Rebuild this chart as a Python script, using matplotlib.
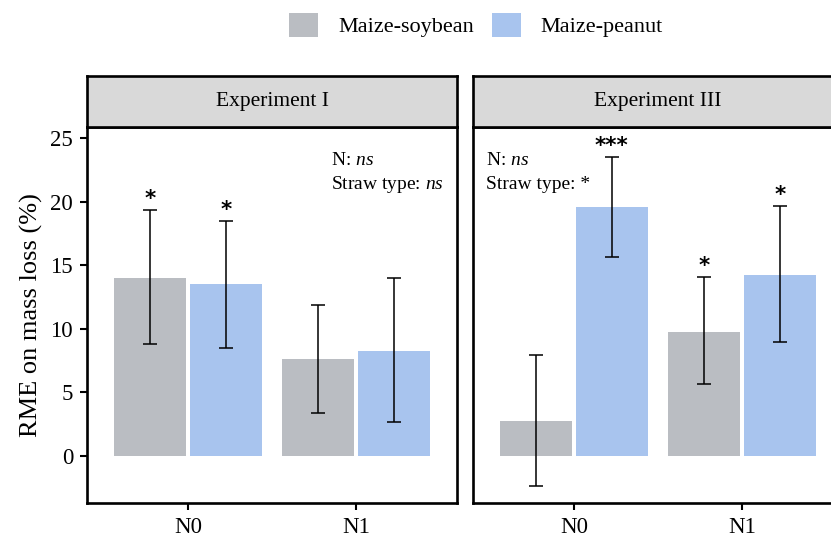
import matplotlib
matplotlib.use('Agg')
import matplotlib.pyplot as plt
from matplotlib.patches import Patch
import numpy as np

# values
experiments = ['Experiment I', 'Experiment III']
nlevels = ['N0', 'N1']
straws = ['Maize-soybean', 'Maize-peanut']
colors = ['#babdc2', '#a8c4ee']

# mean, lower, upper per experiment -> [straw][N]
means = {
    'Experiment I':   [[14.05, 7.6], [13.55, 8.28]],
    'Experiment III': [[2.75, 9.8], [19.58, 14.23]],
}
lower = {
    'Experiment I':   [[8.78, 3.35], [8.52, 2.64]],
    'Experiment III': [[-2.33, 5.63], [15.64, 8.94]],
}
upper = {
    'Experiment I':   [[19.36, 11.85], [18.53, 14.05]],
    'Experiment III': [[7.97, 14.1], [23.53, 19.65]],
}
signif = {
    'Experiment I':   [['*', ''], ['*', '']],
    'Experiment III': [['', '*'], ['***', '*']],
}
notes = {
    'Experiment I':   ['N: $\\it{ns}$', 'Straw type: $\\it{ns}$'],
    'Experiment III': ['N: $\\it{ns}$', 'Straw type: *'],
}

plt.rcParams['font.family'] = ['Liberation Serif', 'DejaVu Serif']
plt.rcParams['mathtext.fontset'] = 'custom'
plt.rcParams['mathtext.it'] = 'Liberation Serif:italic'
plt.rcParams['mathtext.rm'] = 'Liberation Serif'

W, H = 831, 537
fig = plt.figure(figsize=(W / 100, H / 100), dpi=100)

def fx(px):
    return px / W

def fy(py):
    return 1 - py / H

panel_left = [87, 473]
pw = 370
ptop, pbot = 127, 503
strip_top = 76
bw = 0.43
offs = [-0.225, 0.225]

for k, exp in enumerate(experiments):
    x0 = panel_left[k]
    ax = fig.add_axes([fx(x0), fy(pbot), fx(pw), fy(ptop) - fy(pbot)])
    xs = np.arange(len(nlevels))
    for s in range(len(straws)):
        m = np.array(means[exp][s])
        lo = np.array(lower[exp][s])
        up = np.array(upper[exp][s])
        ax.bar(xs + offs[s], m, width=bw, color=colors[s], zorder=1)
        ax.errorbar(xs + offs[s], m, yerr=[m - lo, up - m], fmt='none',
                    ecolor='black', elinewidth=1.1, capsize=5, capthick=1.1, zorder=2)
        for i in range(len(nlevels)):
            if signif[exp][s][i]:
                ax.text(xs[i] + offs[s], up[i] + 0.4, signif[exp][s][i],
                        ha='center', va='baseline', fontsize=15.5, fontweight='bold',
                        family='DejaVu Sans', zorder=3)
    ax.set_xlim(-0.6, 1.6)
    ax.set_ylim(-3.7, 25.9)
    ax.set_xticks(xs)
    ax.set_xticklabels(nlevels, fontsize=16.5)
    ax.set_yticks([0, 5, 10, 15, 20, 25])
    for sp in ax.spines.values():
        sp.set_linewidth(1.9)
    ax.tick_params(axis='both', width=1.5, length=5, labelsize=16.5, pad=5)
    if k == 0:
        ax.set_ylabel('RME on mass loss (%)', fontsize=19, labelpad=5)
        tx = 0.66
    else:
        ax.tick_params(axis='y', left=False, labelleft=False)
        tx = 0.035
    ax.text(tx, 0.912, notes[exp][0], transform=ax.transAxes, fontsize=14,
            ha='left', va='center')
    ax.text(tx, 0.846, notes[exp][1], transform=ax.transAxes, fontsize=14,
            ha='left', va='center')

    # facet strip
    sax = fig.add_axes([fx(x0), fy(ptop), fx(pw), fy(strip_top) - fy(ptop)])
    sax.set_facecolor('#d9d9d9')
    sax.set_xticks([])
    sax.set_yticks([])
    for sp in sax.spines.values():
        sp.set_linewidth(1.9)
    sax.text(0.5, 0.5, exp, ha='center', va='center', fontsize=15.5,
             transform=sax.transAxes)

handles = [Patch(facecolor=colors[i], label=straws[i]) for i in range(len(straws))]
fig.legend(handles=handles, loc='center', bbox_to_anchor=(fx(476), fy(25)),
           ncol=2, frameon=False, fontsize=16, handlelength=1.3,
           handleheight=1.3, handletextpad=0.9, columnspacing=0.8)

fig.savefig('out.png', dpi=100)
